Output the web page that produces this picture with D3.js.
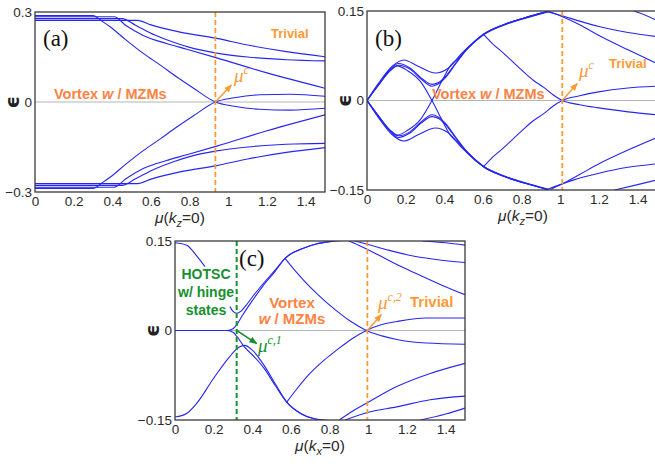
<!DOCTYPE html>
<html>
<head>
<meta charset="utf-8">
<script src="https://cdn.jsdelivr.net/npm/d3@7"></script>
<style>
  body { margin: 0; background: #fff; }
  svg { display: block; }
</style>
</head>
<body>
<svg id="fig"></svg>
<script>
// ---- data: [mu, epsilon] pairs ----
const xTicks = [0, 0.2, 0.4, 0.6, 0.8, 1, 1.2, 1.4]

// panel (a)
const aUp1 = [[0,0.288],[0.30,0.288],[0.35,0.268],[0.39,0.25],[0.47,0.207],[0.56,0.162],[0.65,0.122],[0.73,0.085],[0.82,0.046],[0.933,0],[1.03,-0.014],[1.16,-0.024],[1.32,-0.027],[1.5,-0.021]]
const aUp2 = [[0,0.284],[0.41,0.284],[0.47,0.255],[0.56,0.222],[0.68,0.195],[0.785,0.176],[0.94,0.147],[1.2,0.097],[1.5,0.046]]
const aUp3 = [[0,0.278],[0.45,0.278],[0.52,0.256],[0.62,0.223],[0.72,0.198],[0.8,0.182],[0.94,0.163],[1.1,0.15],[1.3,0.141],[1.5,0.137]]
const aUp4 = [[0,0.272],[0.53,0.272],[0.6,0.257],[0.75,0.233],[0.94,0.212],[1.1,0.19],[1.3,0.168],[1.5,0.151]]
const aDn1 = [[0,-0.288],[0.30,-0.288],[0.35,-0.268],[0.39,-0.25],[0.47,-0.207],[0.56,-0.162],[0.65,-0.122],[0.73,-0.085],[0.82,-0.046],[0.933,0],[1.03,0.014],[1.16,0.024],[1.32,0.026],[1.5,0.019]]
const aDn2 = [[0,-0.284],[0.41,-0.284],[0.47,-0.256],[0.56,-0.222],[0.68,-0.195],[0.785,-0.176],[0.94,-0.147],[1.2,-0.096],[1.5,-0.043]]
const aDn3 = [[0,-0.278],[0.45,-0.278],[0.52,-0.256],[0.62,-0.223],[0.72,-0.198],[0.8,-0.182],[0.94,-0.163],[1.1,-0.15],[1.3,-0.141],[1.5,-0.138]]
const aDn4 = [[0,-0.272],[0.53,-0.272],[0.6,-0.257],[0.75,-0.233],[0.94,-0.212],[1.1,-0.19],[1.3,-0.168],[1.5,-0.152]]

// panel (b)
const bUpOuter = [[0,0],[0.06,0.029],[0.129,0.057],[0.19,0.068],[0.267,0.057],[0.353,0.046],[0.42,0.054],[0.49,0.079],[0.55,0.097],[0.603,0.111],[0.707,0.127],[0.81,0.138],[0.93,0.149]]
const bUpMid1 = [[0,0],[0.06,0.027],[0.12,0.052],[0.163,0.062],[0.22,0.055],[0.28,0.038],[0.336,0.027],[0.37,0.03],[0.405,0.04],[0.457,0.062],[0.52,0.088],[0.603,0.111],[0.707,0.127],[0.81,0.138],[0.93,0.149]]
const bUpMid2 = [[0,0],[0.06,0.026],[0.12,0.05],[0.165,0.059],[0.22,0.053],[0.28,0.036],[0.336,0.024],[0.37,0.028],[0.405,0.038],[0.46,0.062],[0.52,0.087],[0.603,0.11],[0.707,0.126],[0.81,0.137],[0.94,0.149]]
const bCrossDn = [[0,0],[0.06,0.026],[0.12,0.05],[0.155,0.058],[0.21,0.05],[0.276,0.032],[0.336,0],[0.396,-0.038],[0.431,-0.058],[0.47,-0.07],[0.53,-0.09],[0.603,-0.111],[0.707,-0.127],[0.81,-0.138],[0.93,-0.149]]
const bDnOuter = [[0,0],[0.06,-0.029],[0.129,-0.057],[0.19,-0.068],[0.267,-0.057],[0.353,-0.046],[0.42,-0.054],[0.49,-0.079],[0.55,-0.097],[0.603,-0.111],[0.707,-0.127],[0.81,-0.138],[0.93,-0.149]]
const bDnMid1 = [[0,0],[0.06,-0.027],[0.12,-0.052],[0.163,-0.062],[0.22,-0.055],[0.28,-0.038],[0.336,-0.027],[0.37,-0.03],[0.405,-0.04],[0.457,-0.062],[0.52,-0.088],[0.603,-0.111],[0.707,-0.127],[0.81,-0.138],[0.93,-0.149]]
const bDnMid2 = [[0,0],[0.06,-0.026],[0.12,-0.05],[0.165,-0.059],[0.22,-0.053],[0.28,-0.036],[0.336,-0.024],[0.37,-0.028],[0.405,-0.038],[0.46,-0.062],[0.52,-0.087],[0.603,-0.11],[0.707,-0.126],[0.81,-0.137],[0.94,-0.149]]
const bCrossUp = [[0,0],[0.06,-0.026],[0.12,-0.05],[0.155,-0.058],[0.21,-0.05],[0.276,-0.032],[0.336,0],[0.396,0.038],[0.431,0.058],[0.47,0.07],[0.53,0.09],[0.603,0.111],[0.707,0.127],[0.81,0.138],[0.93,0.149]]
const bBranch1 = [[0.603,0.111],[0.65,0.095],[0.707,0.079],[0.76,0.063],[0.81,0.048],[0.86,0.034],[0.914,0.022],[0.96,0.01],[1.01,0],[1.1,-0.007],[1.19,-0.012],[1.35,-0.019],[1.5,-0.024]]
const bBranch2 = [[0.603,-0.111],[0.65,-0.095],[0.707,-0.079],[0.76,-0.063],[0.81,-0.048],[0.86,-0.034],[0.914,-0.022],[0.96,-0.01],[1.01,0],[1.1,0.008],[1.19,0.014],[1.35,0.021],[1.5,0.024]]
const bTopR1 = [[0.93,0.149],[1.0,0.143],[1.1,0.133],[1.2,0.124],[1.35,0.114],[1.5,0.107]]
const bTopR2 = [[0.94,0.149],[1.02,0.139],[1.1,0.127],[1.2,0.109],[1.35,0.085],[1.5,0.062]]
const bTopR3 = [[1.38,0.15],[1.44,0.143],[1.5,0.134]]
const bBotR1 = [[0.93,-0.149],[1.0,-0.141],[1.07,-0.133],[1.2,-0.122],[1.35,-0.112],[1.5,-0.106]]
const bBotR2 = [[0.95,-0.149],[1.02,-0.138],[1.1,-0.124],[1.2,-0.106],[1.35,-0.083],[1.5,-0.062]]
const bBotR3 = [[1.28,-0.15],[1.4,-0.141],[1.5,-0.133]]

// panel (c)
const cTopL = [[0,0.147],[0.06,0.143],[0.11,0.126],[0.155,0.107]]
const cBotL = [[0,-0.145],[0.06,-0.139],[0.11,-0.123],[0.2,-0.08],[0.28,-0.045],[0.33,-0.028],[0.36,-0.025],[0.4,-0.033],[0.46,-0.058],[0.52,-0.09],[0.578,-0.12],[0.65,-0.139],[0.72,-0.148],[0.8,-0.151]]
const cBump = [[0.284,0.04],[0.3,0.032],[0.319,0.029],[0.34,0.032],[0.362,0.04],[0.414,0.062],[0.46,0.08],[0.52,0.102],[0.569,0.121],[0.62,0.132],[0.664,0.138],[0.73,0.145],[0.8,0.149],[0.86,0.151]]
const cZeroUp = [[0,0],[0.27,0],[0.3,0.003],[0.32,0.01],[0.35,0.026],[0.4,0.05],[0.46,0.077],[0.52,0.1],[0.569,0.121],[0.62,0.132],[0.664,0.138],[0.73,0.145],[0.8,0.149],[0.86,0.151]]
const cZeroDn = [[0,0],[0.27,0],[0.3,-0.003],[0.32,-0.01],[0.36,-0.028],[0.41,-0.044],[0.46,-0.063],[0.52,-0.093],[0.578,-0.12],[0.65,-0.139],[0.72,-0.148],[0.8,-0.151]]
const cBranch1 = [[0.569,0.121],[0.63,0.097],[0.698,0.073],[0.77,0.051],[0.836,0.033],[0.91,0.015],[0.99,0],[1.07,-0.009],[1.147,-0.015],[1.3,-0.021],[1.5,-0.023]]
const cBranch2 = [[0.578,-0.12],[0.63,-0.098],[0.698,-0.072],[0.77,-0.05],[0.836,-0.033],[0.91,-0.015],[0.99,0],[1.07,0.01],[1.147,0.015],[1.3,0.021],[1.5,0.021]]
const cTopR1 = [[0.9,0.15],[0.95,0.143],[1.05,0.127],[1.15,0.11],[1.25,0.095],[1.38,0.076],[1.5,0.06]]
const cTopR2 = [[0.93,0.15],[1.0,0.144],[1.1,0.135],[1.2,0.127],[1.35,0.119],[1.5,0.114]]
const cTopR3 = [[1.28,0.15],[1.4,0.147],[1.5,0.143]]
const cBotR1 = [[0.85,-0.15],[0.92,-0.135],[0.99,-0.122],[1.147,-0.094],[1.32,-0.072],[1.5,-0.055]]
const cBotR2 = [[0.88,-0.15],[1.0,-0.137],[1.147,-0.128],[1.32,-0.116],[1.5,-0.11]]
const cBotR3 = [[1.27,-0.15],[1.4,-0.14],[1.5,-0.13]]

const BLUE = '#2626f2'
const ORANGE = '#ff9933'
const CORAL = '#ff8243'
const GREEN = '#16902e'

const svg = d3.select('#fig').attr('width', 655).attr('height', 464)
svg.append('rect').attr('width', 655).attr('height', 464).attr('fill', '#fff')

const defs = svg.append('defs')
function arrowMarker(id, color) {
    defs.append('marker')
        .attr('id', id)
        .attr('markerUnits', 'userSpaceOnUse')
        .attr('markerWidth', 8).attr('markerHeight', 8)
        .attr('viewBox', '0 0 10 10')
        .attr('refX', 9).attr('refY', 5)
        .attr('orient', 'auto')
        .append('path').attr('d', 'M0,1 L10,5 L0,9 z').attr('fill', color)
}
arrowMarker('arrO', ORANGE)
arrowMarker('arrG', GREEN)

let Draw_Panel = function (cfg) {
    let x = d3.scaleLinear().domain([0, 1.5]).range([cfg.x0, cfg.x1])
    let y = d3.scaleLinear().domain([-cfg.ymax, cfg.ymax]).range([cfg.y1, cfg.y0])
    let g = svg.append('g')

    defs.append('clipPath').attr('id', 'clip' + cfg.id)
        .append('rect')
        .attr('x', cfg.x0).attr('y', cfg.y0)
        .attr('width', cfg.x1 - cfg.x0).attr('height', cfg.y1 - cfg.y0)

    // zero line
    g.append('line')
        .attr('x1', x(0)).attr('x2', x(1.5))
        .attr('y1', y(0)).attr('y2', y(0))
        .attr('stroke', '#b4b4b4').attr('stroke-width', 1)

    let line = d3.line()
        .x(d => x(d[0]))
        .y(d => y(d[1]))
        .curve(d3.curveMonotoneX)

    g.append('g')
        .attr('clip-path', 'url(#clip' + cfg.id + ')')
        .selectAll('path')
        .data(cfg.curves)
        .enter().append('path')
        .attr('d', line)
        .attr('fill', 'none')
        .attr('stroke', BLUE)
        .attr('stroke-width', 1.1)

    // dashed markers
    cfg.dashes.forEach(dsh => {
        g.append('line')
            .attr('x1', x(dsh.mu)).attr('x2', x(dsh.mu))
            .attr('y1', cfg.y0).attr('y2', cfg.y1)
            .attr('stroke', dsh.color)
            .attr('stroke-width', dsh.w)
            .attr('stroke-dasharray', '5,3')
    })

    // frame
    g.append('rect')
        .attr('x', cfg.x0).attr('y', cfg.y0)
        .attr('width', cfg.x1 - cfg.x0).attr('height', cfg.y1 - cfg.y0)
        .attr('fill', 'none').attr('stroke', '#3a3a3a').attr('stroke-width', 1.3)

    // axes
    let fmt = d => d === 0 ? '0' : (d === 1 ? '1' : d3.format('.1f')(d))
    let ax = g.append('g')
        .attr('transform', 'translate(0,' + cfg.y1 + ')')
        .call(d3.axisBottom(x).tickValues(xTicks).tickSize(0).tickPadding(4).tickFormat(fmt))
    ax.select('.domain').remove()

    let yfmt = d => d === 0 ? '0' : (d < 0 ? '\u2212' + (-d) : String(d))
    let ay = g.append('g')
        .attr('transform', 'translate(' + cfg.x0 + ',0)')
        .call(d3.axisLeft(y).tickValues(cfg.yTicks).tickSize(0).tickPadding(3).tickFormat(yfmt))
    ay.select('.domain').remove()

    g.selectAll('.tick text')
        .attr('font-family', 'Liberation Sans, Arial, sans-serif')
        .attr('font-size', 13.5)
        .attr('fill', '#2a2a2a')

    // axis titles
    let xl = g.append('text')
        .attr('x', (cfg.x0 + Math.min(cfg.x1, 655)) / 2 + cfg.xlShift)
        .attr('y', cfg.y1 + 31)
        .attr('text-anchor', 'middle')
        .attr('font-family', 'Liberation Sans, Arial, sans-serif')
        .attr('font-size', 15.5)
        .attr('fill', '#2a2a2a')
    xl.append('tspan').attr('font-style', 'italic').text('\u03bc')
    xl.append('tspan').text('(')
    xl.append('tspan').attr('font-style', 'italic').text('k')
    xl.append('tspan').attr('font-style', 'italic').attr('font-size', 11).attr('dy', 4).text(cfg.sub)
    xl.append('tspan').attr('dy', -4).text('=0)')

    g.append('text')
        .attr('transform', 'translate(' + (cfg.x0 - 23) + ',' + y(0) + ') rotate(-90)')
        .attr('text-anchor', 'middle')
        .attr('dominant-baseline', 'central')
        .attr('font-family', 'DejaVu Sans, sans-serif')
        .attr('font-weight', 'bold')
        .attr('font-size', 19)
        .attr('fill', '#222')
        .text('\u03f5')

    g.append('text')
        .attr('x', cfg.lab[0]).attr('y', cfg.lab[1])
        .attr('font-family', 'Liberation Serif, Times New Roman, serif')
        .attr('font-size', 23)
        .attr('fill', '#111')
        .text(cfg.letter)

    return {x: x, y: y, g: g}
}

function label(g, px, py, txt, color, size, anchor) {
    return g.append('text')
        .attr('x', px).attr('y', py)
        .attr('text-anchor', anchor || 'start')
        .attr('font-family', 'Liberation Sans, Arial, sans-serif')
        .attr('font-weight', 'bold')
        .attr('font-size', size)
        .attr('fill', color)
        .text(txt)
}

function vortex(g, px, py, size) {
    let t = label(g, px, py, '', CORAL, size)
    t.append('tspan').text('Vortex ')
    t.append('tspan').attr('font-style', 'italic').text('w')
    t.append('tspan').text(' / MZMs')
}

function muLabel(g, px, py, sup, color) {
    let t = g.append('text')
        .attr('x', px).attr('y', py)
        .attr('font-family', 'Liberation Serif, Times New Roman, serif')
        .attr('font-style', 'italic')
        .attr('fill', color)
        .attr('font-size', 19)
    t.append('tspan').text('\u03bc')
    t.append('tspan').attr('font-size', 12).attr('dy', -8).text(sup)
}

function arrow(g, xa, ya, xb, yb, color, id) {
    g.append('line')
        .attr('x1', xa).attr('y1', ya).attr('x2', xb).attr('y2', yb)
        .attr('stroke', color).attr('stroke-width', 1.5)
        .attr('marker-end', 'url(#' + id + ')')
}

// ---- panel (a) ----
let pa = Draw_Panel({
    id: 'a', x0: 35, x1: 325, y0: 12, y1: 192, ymax: 0.3,
    yTicks: [-0.3, 0, 0.3], sub: 'z', xlShift: 0,
    curves: [aUp1, aUp2, aUp3, aUp4, aDn1, aDn2, aDn3, aDn4],
    dashes: [{mu: 0.933, color: ORANGE, w: 1.8}],
    letter: '(a)', lab: [43, 46]
})
label(pa.g, 271, 38, 'Trivial', ORANGE, 13)
vortex(pa.g, 54, 99, 14.5)
muLabel(pa.g, 234, 82, 'c', ORANGE)
arrow(pa.g, pa.x(0.933), pa.y(0), pa.x(0.933) + 16, pa.y(0) - 17, ORANGE, 'arrO')

// ---- panel (b) ----
let pb = Draw_Panel({
    id: 'b', x0: 367, x1: 657, y0: 11, y1: 190, ymax: 0.15,
    yTicks: [-0.15, 0, 0.15], sub: 'z', xlShift: 12,
    curves: [bUpOuter, bUpMid1, bUpMid2, bCrossDn, bDnOuter, bDnMid1, bDnMid2, bCrossUp,
             bBranch1, bBranch2, bTopR1, bTopR2, bTopR3, bBotR1, bBotR2, bBotR3],
    dashes: [{mu: 1.01, color: ORANGE, w: 1.8}],
    letter: '(b)', lab: [375, 46]
})
label(pb.g, 609, 68, 'Trivial', ORANGE, 13)
vortex(pb.g, 432, 99, 14.5)
muLabel(pb.g, 579, 77, 'c', ORANGE)
arrow(pb.g, pb.x(1.01), pb.y(0), pb.x(1.01) + 15, pb.y(0) - 17, ORANGE, 'arrO')

// ---- panel (c) ----
let pc = Draw_Panel({
    id: 'c', x0: 175, x1: 465, y0: 241, y1: 420, ymax: 0.15,
    yTicks: [-0.15, 0, 0.15], sub: 'x', xlShift: 0,
    curves: [cTopL, cBotL, cBump, cZeroUp, cZeroDn, cBranch1, cBranch2,
             cTopR1, cTopR2, cTopR3, cBotR1, cBotR2, cBotR3],
    dashes: [{mu: 0.319, color: GREEN, w: 2}, {mu: 0.995, color: ORANGE, w: 1.8}],
    letter: '(c)', lab: [239, 266]
})
label(pc.g, 206, 279, 'HOTSC', GREEN, 14, 'middle')
label(pc.g, 206, 297, 'w/ hinge', GREEN, 14, 'middle')
label(pc.g, 206, 315, 'states', GREEN, 14, 'middle')
label(pc.g, 292, 308, 'Vortex', CORAL, 15, 'middle')
let wm = label(pc.g, 292, 324, '', CORAL, 15, 'middle')
wm.append('tspan').attr('font-style', 'italic').text('w')
wm.append('tspan').text(' / MZMs')
label(pc.g, 410, 307, 'Trivial', ORANGE, 15)
muLabel(pc.g, 378, 309, 'c,2', ORANGE)
arrow(pc.g, pc.x(0.995), pc.y(0), pc.x(0.995) + 14, pc.y(0) - 16, ORANGE, 'arrO')
muLabel(pc.g, 258, 352, 'c,1', GREEN)
arrow(pc.g, pc.x(0.319), pc.y(0), pc.x(0.319) + 20, pc.y(0) + 13, GREEN, 'arrG')
</script>
</body>
</html>
